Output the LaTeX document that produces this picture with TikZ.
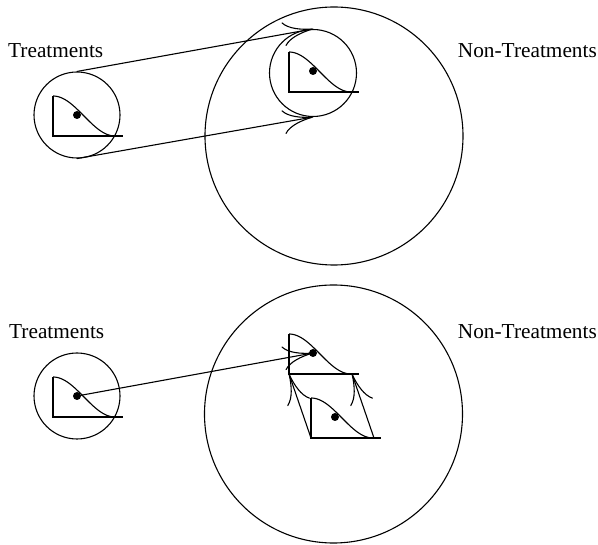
\documentclass[tikz,border=0pt]{standalone}
\usepackage{fontspec}
\setmainfont{Liberation Serif}
\usetikzlibrary{arrows.meta}
\tikzset{
  lw/.style={line width=1.1pt},
  arr/.style={lw,-{Computer Modern Rightarrow[length=30pt,width=24pt]}},
  ring/.style={circle,draw,lw,inner sep=0pt},
  lbl/.style={font=\fontsize{21.3}{25}\selectfont,inner sep=0pt},
  distr/.pic={
    \draw[lw] (0,0) -- (0,40) -- (70,40);
    \draw[lw] plot[domain=0:1,samples=40,smooth] ({62*\x},{20*(1-cos(180*\x))});
    \fill (24,19) circle[radius=4];
    \coordinate (-dot) at (24,19);
    \coordinate (-bl) at (0,40);
    \coordinate (-end) at (63,40);
  }
}
\begin{document}
\begin{tikzpicture}[x=1pt,y=-1pt]
\useasboundingbox (0,0) rectangle (598,545);
% top panel
\node[lbl,anchor=base west] (t1) at (8,58) {Treatments};
\node[lbl,anchor=base east] (n1) at (597,58) {Non-Treatments};
\node[ring,minimum size=258pt] (B1) at (334,136) {};
\node[ring,minimum size=86pt] (L1) at (77,115) {};
\node[ring,minimum size=87pt] (R1) at (313,73) {};
\pic (p1) at (53,96) {distr};
\pic (p2) at (289,52) {distr};
\draw[arr] (L1.north) -- (R1.north);
\draw[arr] (L1.south) -- (R1.south);
% bottom panel
\node[lbl,anchor=base west] (t2) at (9,339) {Treatments};
\node[lbl,anchor=base east] (n2) at (597,339) {Non-Treatments};
\node[ring,minimum size=258pt] (B2) at (333.5,414) {};
\node[ring,minimum size=86pt] (L2) at (77,396) {};
\pic (p3) at (53,377) {distr};
\pic (pU) at (289,334) {distr};
\pic (pD) at (311,398) {distr};
\draw[arr] (p3-dot) -- (pU-dot);
\draw[arr] (pD-bl) -- (pU-bl);
\draw[arr] (pD-end) -- (pU-end);
\end{tikzpicture}
\end{document}
